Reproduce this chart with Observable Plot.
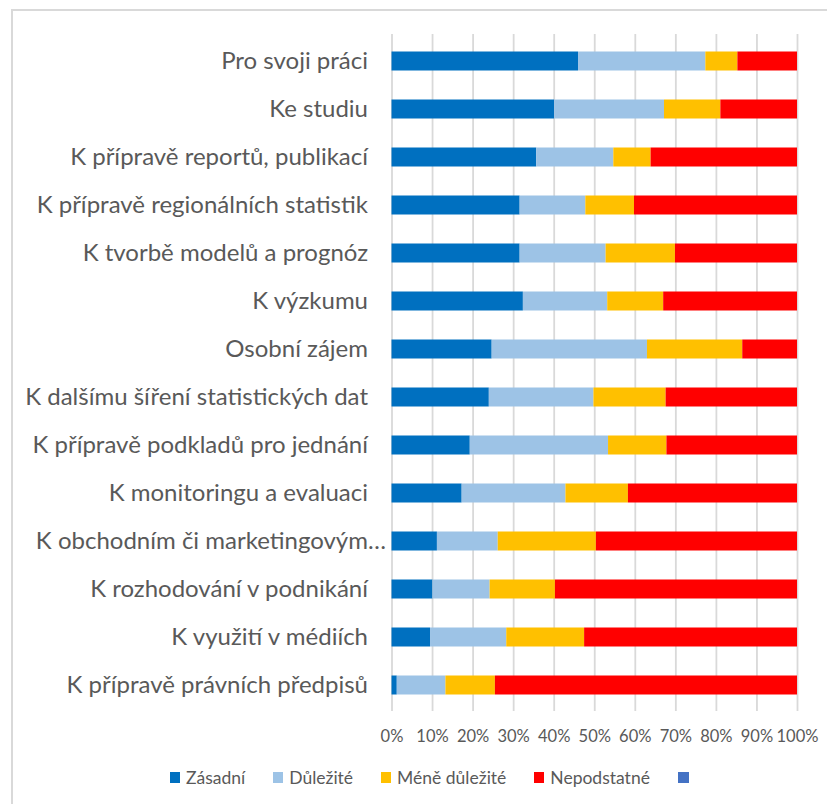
<!DOCTYPE html>
<html>
<head>
<meta charset="utf-8">
<script src="https://cdn.jsdelivr.net/npm/d3@7"></script>
<script src="https://cdn.jsdelivr.net/npm/@observablehq/plot@0.6"></script>
<style>
  html, body { margin: 0; padding: 0; background: #fff; width: 827px; height: 804px; overflow: hidden; }
  #frame { position: absolute; left: 11px; top: 9px; width: 900px; height: 900px; border: 2px solid #d9d9d9; box-sizing: border-box; }
  #chart { position: absolute; left: 0; top: 0; }
  #legend { position: absolute; left: 170px; top: 767px; display: flex; align-items: center; gap: 28px;
            font-family: Lato, "Open Sans", sans-serif; font-size: 17.5px; color: #595959; white-space: nowrap; }
  #legend .item { display: flex; align-items: center; }
  #legend .sw { width: 10px; height: 11px; margin-right: 6px; display: inline-block; }
</style>
</head>
<body>
<div id="frame"></div>
<div id="chart"></div>
<div id="legend"></div>
<script>
const categories = [
  "Pro svoji práci",
  "Ke studiu",
  "K přípravě reportů, publikací",
  "K přípravě regionálních statistik",
  "K tvorbě modelů a prognóz",
  "K výzkumu",
  "Osobní zájem",
  "K dalšímu šíření statistických dat",
  "K přípravě podkladů pro jednání",
  "K monitoringu a evaluaci",
  "K obchodním či marketingovým…",
  "K rozhodování v podnikání",
  "K využití v médiích",
  "K přípravě právních předpisů"
];
const truncatedCategories = ["K obchodním či marketingovým…"];
const seriesNames = ["Zásadní", "Důležité", "Méně důležité", "Nepodstatné"];
const seriesColors = ["#0070C0", "#9DC3E6", "#FFC000", "#FF0000"];
const extraLegendColor = "#4472C4";

const zasadni      = [46.0, 40.1, 35.7, 31.6, 31.6, 32.4, 24.7, 24.0, 19.3, 17.3, 11.2, 10.1,  9.5,  1.3];
const dulezite     = [31.4, 27.1, 19.0, 16.2, 21.2, 20.8, 38.3, 25.8, 34.1, 25.6, 15.0, 14.1, 18.8, 12.0];
const meneDulezite = [ 7.9, 13.9,  9.2, 12.0, 17.1, 13.8, 23.5, 17.8, 14.4, 15.4, 24.2, 16.1, 19.2, 12.2];
const nepodstatne  = [14.7, 18.9, 36.1, 40.2, 30.1, 33.0, 13.5, 32.4, 32.2, 41.7, 49.6, 59.7, 52.5, 74.5];

const xTicks = [0, 10, 20, 30, 40, 50, 60, 70, 80, 90, 100];

const seriesValues = [zasadni, dulezite, meneDulezite, nepodstatne];
const data = [];
categories.forEach((c, i) => {
  seriesNames.forEach((s, j) => data.push({category: c, series: s, value: seriesValues[j][i]}));
});

const fontFamily = "Lato, 'Open Sans', sans-serif";

const chart = Plot.plot({
  width: 827,
  height: 760,
  marginLeft: 391.5,
  marginRight: 30,
  marginTop: 34,
  marginBottom: 49,
  style: { fontFamily, color: "#595959", background: "transparent" },
  x: { domain: [0, 100], ticks: xTicks, tickFormat: d => d + "%", label: null },
  y: { domain: categories, padding: 0, label: null },
  color: { domain: seriesNames, range: seriesColors },
  marks: [
    Plot.ruleX(xTicks, { stroke: "#d9d9d9", strokeWidth: 1.8 }),
    Plot.barX(data, { x: "value", y: "category", fill: "series", insetTop: 14.5, insetBottom: 14.5 }),
    Plot.axisX(xTicks, { tickFormat: d => d + "%", tickSize: 0, tickPadding: 19, fontSize: 16.5, fill: "#595959", label: null }),
    Plot.axisY(categories.filter(c => !truncatedCategories.includes(c)), { tickSize: 0, tickPadding: 24, fontSize: 24, fill: "#595959", label: null }),
    Plot.axisY(truncatedCategories, { tickSize: 0, tickPadding: 6, fontSize: 24, fill: "#595959", label: null })
  ]
});
document.getElementById("chart").appendChild(chart);

const legend = document.getElementById("legend");
seriesNames.forEach((s, i) => {
  const it = document.createElement("div");
  it.className = "item";
  it.innerHTML = `<span class="sw" style="background:${seriesColors[i]}"></span><span>${s}</span>`;
  legend.appendChild(it);
});
const extra = document.createElement("div");
extra.className = "item";
extra.innerHTML = `<span class="sw" style="background:${extraLegendColor};width:11px"></span>`;
legend.appendChild(extra);
</script>
</body>
</html>
